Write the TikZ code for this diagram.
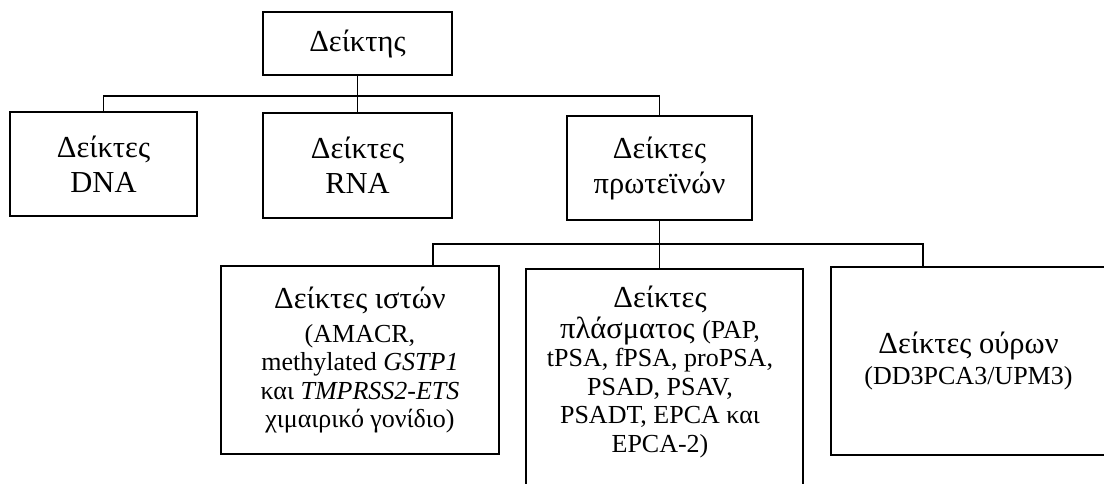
\documentclass[tikz,border=0pt]{standalone}
\usepackage{fontspec}
\setmainfont{Liberation Serif}
\newcommand{\hd}{\fontsize{30.5}{35}\selectfont}
\newcommand{\hdt}{\fontsize{30.5}{28.5}\selectfont}
\newcommand{\sm}{\fontsize{26}{28.5}\selectfont}
\tikzset{
  box/.style={draw, line width=1.8pt, align=center, inner sep=0pt, font=\hd},
  lowbox/.style={box, font=\hdt},
  conn/.style={draw, line width=1.8pt},
}
\begin{document}
\begin{tikzpicture}[x=1pt,y=-1pt]
\path[use as bounding box] (0,0) rectangle (1104,484);
\clip (0,0) rectangle (1104,484);
\node[box, minimum width=189, minimum height=63] (top) at (357.5,43.5) {Δείκτης};
\node[box, minimum width=187, minimum height=104] (dna) at (103.5,164) {Δείκτες\\ DNA};
\node[box, minimum width=189, minimum height=105] (rna) at (357.5,165.5) {Δείκτες\\ RNA};
\node[box, minimum width=185, minimum height=104] (prot) at (659.5,168) {Δείκτες\\ πρωτεϊνών};
\node[lowbox, minimum width=278, minimum height=188] (tissue) at (360,360)
  {Δείκτες ιστών\\[5.5pt] \sm (AMACR,\\ \sm methylated \textit{GSTP1}\\ \sm και \textit{TMPRSS2-ETS}\\ \sm χιμαιρικό γονίδιο)};
\node[box, minimum width=277, minimum height=260, anchor=north] (plasma) at (664.5,268) {};
\node[align=center, inner sep=0pt, anchor=north, font=\hdt] (plasmatext) at (660,285.5)
  {Δείκτες\\[2.5pt] πλάσματος {\sm (PAP,}\\ \sm tPSA, fPSA, proPSA,\\ \sm PSAD, PSAV,\\ \sm PSADT, EPCA και\\ \sm EPCA-2)};
\node[lowbox, minimum width=275, minimum height=188] (urine) at (968.5,361)
  {Δείκτες ούρων\\[2.5pt] \sm (DD3PCA3/UPM3)};
\coordinate (b1) at (357.5,96);
\coordinate (b2) at (660,244);
\draw[conn] (top.south) -- (rna.north);
\draw[conn] (dna.north) |- (b1) -| (prot.north);
\draw[conn] (prot.south) -- (prot.south |- plasma.north);
\draw[conn] ([xshift=73pt]tissue.north) |- (b2) -| ([xshift=-45.5pt]urine.north);
\end{tikzpicture}
\end{document}
